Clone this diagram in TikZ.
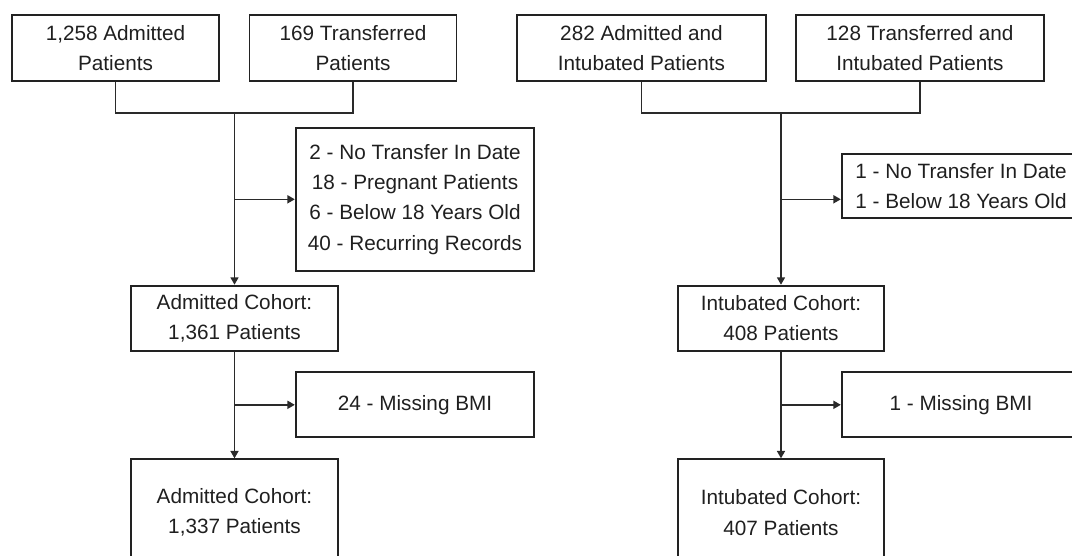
\documentclass[tikz,border=0pt]{standalone}
\usepackage{fontspec}
\setmainfont{Liberation Sans}
\usetikzlibrary{arrows.meta}
\tikzset{>={Triangle[length=4.2pt,width=4.6pt]}}
\definecolor{boxline}{HTML}{222222}
\definecolor{flowline}{HTML}{2a2a2a}
\tikzset{
  box/.style = {draw = boxline, line width = 1.1pt, align = center, inner sep = 0pt,
    text = black!88, font = \fontsize{11.8}{17.2}\selectfont},
  flow/.style = {draw = flowline, line width = 0.8pt}
}

\begin{document}
\begin{tikzpicture}[x = 0.02cm, y = -0.02cm]
\useasboundingbox (0,0) rectangle (1072,555);
\begin{scope}
\node[box, minimum width = 4.14cm, minimum height = 1.31cm] (adm) at (115.5,48) {1,258 Admitted\\Patients};
\node[box, minimum width = 4.14cm, minimum height = 1.31cm] (trf) at (353,48) {169 Transferred\\Patients};
\node[box, minimum width = 4.77cm, minimum height = 2.85cm] (exclA) at (415,199.5) {2 - No Transfer In Date\\18 - Pregnant Patients\\6 - Below 18 Years Old\\40 - Recurring Records};
\node[box, minimum width = 4.13cm, minimum height = 1.31cm] (cohA) at (234.5,318.4) {Admitted Cohort:\\1,361 Patients};
\node[box, minimum width = 4.77cm, minimum height = 1.30cm] (bmiA) at (415,404.8) {24 - Missing BMI};
\node[box, minimum width = 4.13cm, minimum height = 2.13cm] (cohAfin) at (234.5,512.5) {Admitted Cohort:\\1,337 Patients};
\coordinate (jA) at (234.5,112);
\coordinate (kA) at (234.5,199.3);
\coordinate (mA) at (234.5,404.8);
\draw[flow] (adm.south) -- ++(0,31.3) -| (trf.south);
\draw[flow, ->] (jA) -- (cohA.north);
\draw[flow, ->] (kA) -- (kA -| exclA.west);
\draw[flow, ->] (cohA.south) -- (cohAfin.north);
\draw[flow, ->] (mA) -- (mA -| bmiA.west);
\end{scope}
\begin{scope}
\node[box, minimum width = 4.98cm, minimum height = 1.31cm] (admint) at (641.5,48) {282 Admitted and\\Intubated Patients};
\node[box, minimum width = 4.96cm, minimum height = 1.31cm] (trfint) at (920,48) {128 Transferred and\\Intubated Patients};
\node[box, minimum width = 4.77cm, minimum height = 1.29cm] (exclB) at (961,186) {1 - No Transfer In Date\\1 - Below 18 Years Old};
\node[box, minimum width = 4.13cm, minimum height = 1.31cm] (cohB) at (781,318.4) {Intubated Cohort:\\408 Patients};
\node[box, minimum width = 4.77cm, minimum height = 1.30cm] (bmiB) at (961,404.8) {1 - Missing BMI};
\node[box, minimum width = 4.13cm, minimum height = 2.13cm] (cohBfin) at (781,512.5) {Intubated Cohort:\\407 Patients};
\coordinate (jB) at (781,112);
\coordinate (kB) at (781,199.3);
\coordinate (mB) at (781,404.8);
\draw[flow] (admint.south) -- ++(0,31.3) -| (trfint.south);
\draw[flow, ->] (jB) -- (cohB.north);
\draw[flow, ->] (kB) -- (kB -| exclB.west);
\draw[flow, ->] (cohB.south) -- (cohBfin.north);
\draw[flow, ->] (mB) -- (mB -| bmiB.west);
\end{scope}
\end{tikzpicture}
\end{document}
